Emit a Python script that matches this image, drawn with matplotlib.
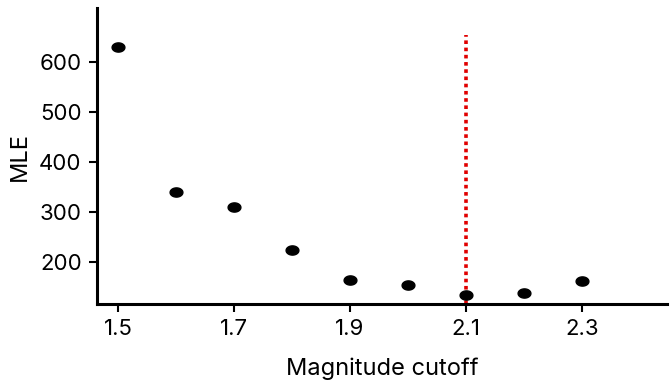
import numpy as np
import matplotlib
matplotlib.use("Agg")
import matplotlib.pyplot as plt
from matplotlib.path import Path

plt.rcParams['font.family'] = ['Inter', 'DejaVu Sans']

cutoffs = [1.5, 1.6, 1.7, 1.8, 1.9, 2.0, 2.1, 2.2, 2.3]
mle = [630, 341, 311, 223, 163, 153, 133, 137, 161]
best_cutoff = 2.1
line_top = 654

# elliptic marker (wider than tall)
t = np.linspace(0, 2 * np.pi, 40)
ellipse = Path(np.column_stack([np.cos(t), 0.72 * np.sin(t)]), closed=True)

fig = plt.figure(figsize=(6.71, 3.83), dpi=100)
ax = fig.add_axes([0.1446, 0.2063, 0.8494, 0.7727])

ax.scatter(cutoffs, mle, marker=ellipse, s=85, color='black', zorder=3)
ax.plot([best_cutoff, best_cutoff], [116, line_top], color='#e00000',
        linestyle=(0, (1, 1)), linewidth=2.6, zorder=2)

ax.set_xlim(1.464, 2.447)
ax.set_ylim(116, 708)
ax.set_xticks([1.5, 1.7, 1.9, 2.1, 2.3])
ax.set_yticks([200, 300, 400, 500, 600])
ax.set_xlabel('Magnitude cutoff', fontsize=17, labelpad=13)
ax.set_ylabel('MLE', fontsize=17, labelpad=6)

for s in ['top', 'right']:
    ax.spines[s].set_visible(False)
for s in ['left', 'bottom']:
    ax.spines[s].set_linewidth(2.2)
ax.tick_params(axis='both', labelsize=16, width=1.5, length=6, direction='out', pad=5)

fig.savefig('out.png', dpi=100)
